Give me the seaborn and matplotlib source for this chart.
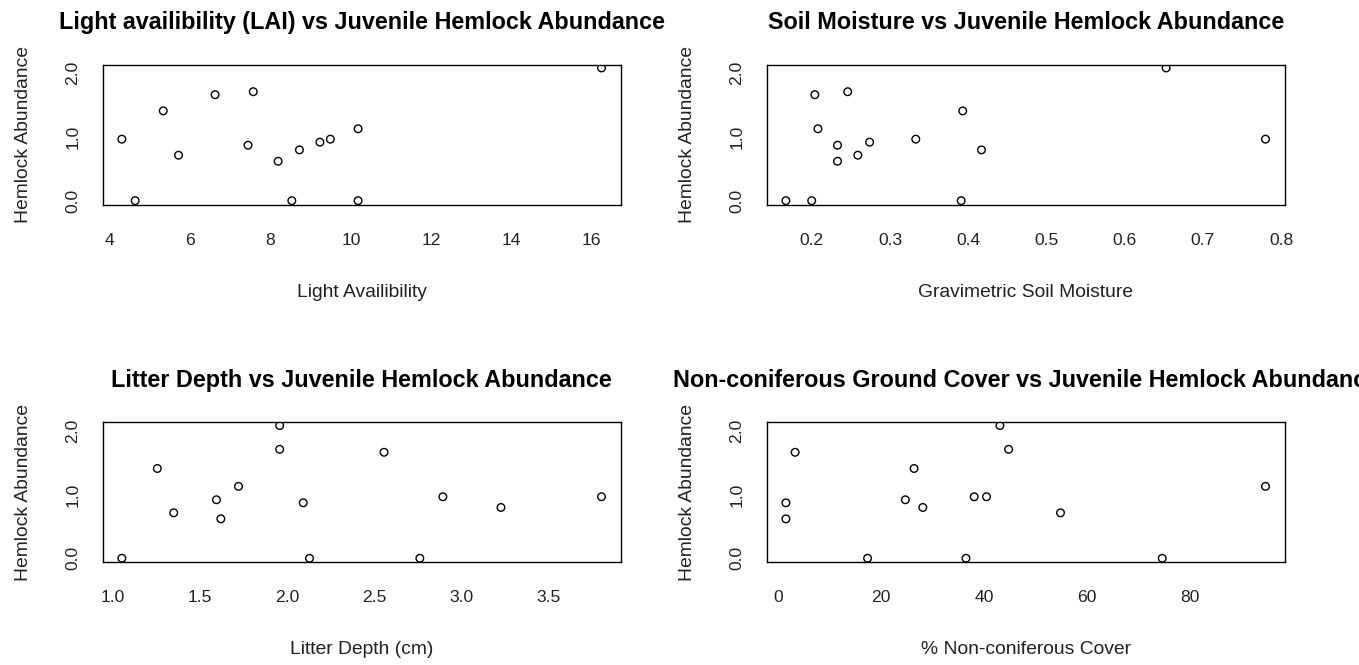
import seaborn as sns
import matplotlib.pyplot as plt
import pandas as pd
from matplotlib import font_manager

# one row per plot
hemlock = [2.084, 1.711, 1.664, 1.41, 1.129, 0.966, 0.966, 0.919, 0.871, 0.798, 0.714, 0.619, 0.0, 0.0, 0.0]
lai = [16.24, 7.57, 6.62, 5.33, 10.18, 4.30, 9.49, 9.23, 7.44, 8.72, 5.71, 8.19, 4.63, 8.53, 10.18]
moisture = [0.653, 0.246, 0.204, 0.393, 0.208, 0.333, 0.780, 0.274, 0.233, 0.417, 0.259, 0.233, 0.167, 0.200, 0.391]
litter = [1.957, 1.957, 2.555, 1.256, 1.721, 2.892, 3.801, 1.595, 2.092, 3.225, 1.350, 1.620, 1.053, 2.128, 2.760]
cover = [43.1, 44.8, 3.25, 26.4, 94.8, 38.1, 40.5, 24.7, 1.45, 28.1, 54.9, 1.45, 17.35, 36.5, 74.7]

df = pd.DataFrame({'hemlock': hemlock, 'lai': lai, 'moisture': moisture,
                   'litter': litter, 'cover': cover})

panels = [
    ('lai', 'Light availibility (LAI) vs Juvenile Hemlock Abundance', 'Light Availibility',
     [4, 6, 8, 10, 12, 14, 16], ['4', '6', '8', '10', '12', '14', '16']),
    ('moisture', 'Soil Moisture vs Juvenile Hemlock Abundance', 'Gravimetric Soil Moisture',
     [0.2, 0.3, 0.4, 0.5, 0.6, 0.7, 0.8], ['0.2', '0.3', '0.4', '0.5', '0.6', '0.7', '0.8']),
    ('litter', 'Litter Depth vs Juvenile Hemlock Abundance', 'Litter Depth (cm)',
     [1.0, 1.5, 2.0, 2.5, 3.0, 3.5], ['1.0', '1.5', '2.0', '2.5', '3.0', '3.5']),
    ('cover', 'Non-coniferous Ground Cover vs Juvenile Hemlock Abundance', '% Non-coniferous Cover',
     [0, 20, 40, 60, 80], ['0', '20', '40', '60', '80']),
]
ylabel = 'Hemlock Abundance'
yticks = [0, 0.5, 1.0, 1.5, 2.0]
yticklabels = ['0.0', '', '1.0', '', '2.0']

sns.set_style('white')
names = {f.name for f in font_manager.fontManager.ttflist}
if 'Liberation Sans Narrow' in names:
    fam, k = 'Liberation Sans Narrow', 1.0
else:
    fam, k = 'Liberation Sans', 0.84
plt.rcParams['font.family'] = [fam, 'DejaVu Sans']

W, H = 1359, 665
fig = plt.figure(figsize=(W / 100, H / 100), dpi=100)

# box positions in pixels: left, top
boxes = [(102.7, 64.7), (766.7, 64.7), (102.7, 422.3), (766.7, 422.3)]
bw, bh = 518, 140

for (col, title, xlabel, xt, xtl), (l, t) in zip(panels, boxes):
    ax = fig.add_axes([l / W, 1 - (t + bh) / H, bw / W, bh / H])
    sns.scatterplot(data=df, x=col, y='hemlock', ax=ax, marker='o', s=30,
                    facecolor='none', edgecolor='black', linewidth=1.0)
    xmin, xmax = df[col].min(), df[col].max()
    r = xmax - xmin
    ax.set_xlim(xmin - 0.04 * r, xmax + 0.04 * r)
    ax.set_ylim(-0.063, 2.135)
    ax.set_xticks(xt)
    ax.set_xticklabels(xtl)
    ax.set_yticks(yticks)
    ax.set_yticklabels(yticklabels, rotation=90, va='center')
    ax.tick_params(axis='both', direction='out', length=9.1, width=1.0,
                   color='black', labelsize=15 * k, labelcolor='#222222')
    ax.tick_params(axis='x', pad=11)
    ax.tick_params(axis='y', pad=7)
    for sp in ax.spines.values():
        sp.set_color('black')
        sp.set_linewidth(1.0)
    ax.set_title(title, fontsize=20 * k, fontweight='bold', pad=25.5, color='black')
    ax.set_xlabel(xlabel, fontsize=16.5 * k, color='#222222')
    ax.set_ylabel(ylabel, fontsize=16.5 * k, color='#222222')
    ax.xaxis.set_label_coords(0.5, -92 / bh)
    ax.xaxis.label.set_va('baseline')
    ax.yaxis.set_label_coords(-74.2 / bw, 0.5)
    ax.yaxis.label.set_va('baseline')

fig.savefig('out.png', dpi=100)
